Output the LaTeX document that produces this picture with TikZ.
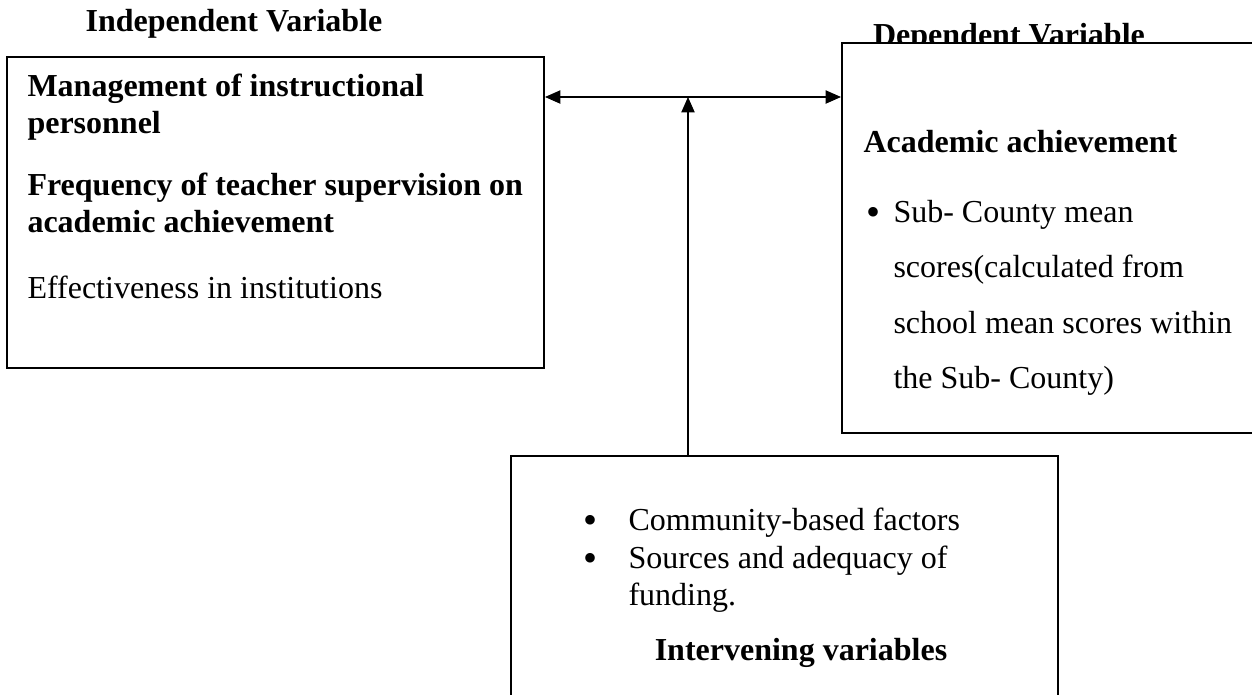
\documentclass[tikz,border=0pt]{standalone}
\usepackage{fontspec}
\setmainfont{Liberation Serif}
\usetikzlibrary{arrows.meta,fit}

\tikzset{
  box/.style={draw,line width=0.75pt,fill=white,inner sep=0pt},
  txt/.style={anchor=base west,inner sep=0pt,font=\fontsize{12}{14}\selectfont},
  txtb/.style={txt,font=\fontsize{12}{14}\selectfont\bfseries},
  dot/.style={anchor=base west,inner sep=0pt,font=\fontsize{15}{15}\selectfont},
  hd/.style={anchor=base,inner sep=0pt,font=\fontsize{12}{14}\selectfont\bfseries},
  arr/.style={line width=0.5pt,-{Triangle[length=5.8pt,width=5pt]}}
}

\begin{document}
\begin{tikzpicture}[x=0.375pt,y=-0.375pt]
  \useasboundingbox (0,0) rectangle (1252,694);
  \clip (0,0) rectangle (1252,694);
  \node[hd] (indeptitle) at (234,31) {Independent Variable};
  \node[hd] (deptitle) at (1009,45) {Dependent Variable};
  \node[box,fit={(7,57) (544,368)}] (indep) {};
  \node[box,fit={(842,43) (1262,433)}] (dep) {};
  \node[box,fit={(511,456) (1058,720)}] (interv) {};
  % independent variable
  \node[txtb] (mgmt1) at (27,96) {Management of instructional};
  \node[txtb] (mgmt2) at (27,133) {personnel};
  \node[txtb] (freq1) at (27,195) {Frequency of teacher supervision on};
  \node[txtb] (freq2) at (27,232) {academic achievement};
  \node[txt] (effect) at (27,298) {Effectiveness in institutions};
  % dependent variable
  \node[txtb] (acad) at (863,152) {Academic achievement};
  \node[dot] (dot1) at (866,225) {•};
  \node[txt] (mean1) at (893,222) {Sub- County mean};
  \node[txt] (mean2) at (893,277) {scores(calculated from};
  \node[txt] (mean3) at (893,333) {school mean scores within};
  \node[txt] (mean4) at (893,388) {the Sub- County)};
  % intervening variables
  \node[dot] (dot2) at (583,533) {•};
  \node[dot] (dot3) at (583,571) {•};
  \node[txt] (comm) at (628,530) {Community-based factors};
  \node[txt] (fund1) at (628,568) {Sources and adequacy of};
  \node[txt] (fund2) at (628,605) {funding.};
  \node[hd] (intervtitle) at (801,660) {Intervening variables};
  \coordinate (meet) at (688,97);
  \draw[arr] (meet) -- (meet -| indep.east);
  \draw[arr] (meet) -- (meet -| dep.west);
  \draw[arr] (meet |- interv.north) -- (meet);
\end{tikzpicture}
\end{document}
